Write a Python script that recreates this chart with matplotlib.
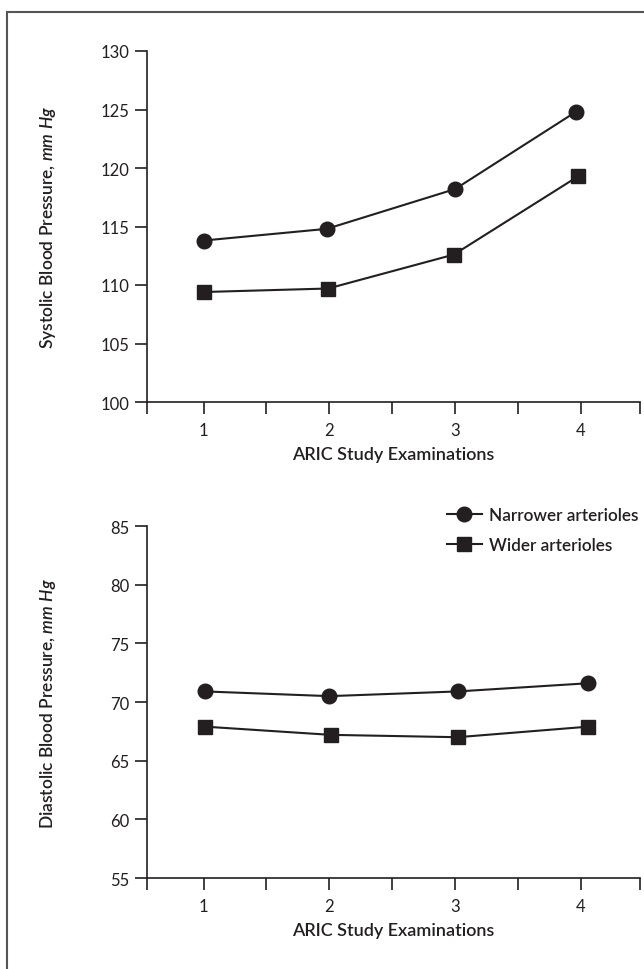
import matplotlib
matplotlib.use("Agg")
import matplotlib.pyplot as plt
from matplotlib.patches import Rectangle

plt.rcParams["font.family"] = ["Lato", "DejaVu Sans"]
plt.rcParams["mathtext.fontset"] = "custom"
plt.rcParams["mathtext.rm"] = "Lato:semibold"
plt.rcParams["mathtext.it"] = "Lato:italic:semibold"

# ARIC examination visits
exams = [1, 2, 3, 4]
exam_labels = ["1", "2", "3", "4"]

# systolic panel (x as plotted, slightly off the integer visits)
sys_x_narrow = [1.0, 1.98, 3.0, 3.96]
sys_x_wide = [1.0, 1.99, 2.99, 3.98]
sys_narrow = [113.8, 114.8, 118.2, 124.8]
sys_wide = [109.4, 109.7, 112.6, 119.3]

# diastolic panel
dia_x_narrow = [1.01, 2.0, 3.02, 4.06]
dia_x_wide = [1.01, 2.01, 3.02, 4.06]
dia_narrow = [70.9, 70.5, 70.9, 71.6]
dia_wide = [67.9, 67.2, 67.0, 67.9]

series_names = ["Narrower arterioles", "Wider arterioles"]

ink = "#231f20"

fig = plt.figure(figsize=(6.44, 9.70), dpi=100)
fig.patches.append(Rectangle((7 / 644, -0.05), 1.2, 1 - 13 / 970 + 0.05,
                             transform=fig.transFigure, fill=False,
                             ec="#555555", lw=1.5))

xlim = (0.55, 4.47)
left = 147 / 644
width = (640 - 147) / 644
ax1 = fig.add_axes([left, 1 - 403 / 970, width, (403 - 52) / 970])
ax2 = fig.add_axes([left, 1 - 879 / 970, width, (879 - 527) / 970])


def style(ax, ylim, yticks, ylabel):
    ax.set_xlim(*xlim)
    ax.set_ylim(*ylim)
    for s in ["top", "right"]:
        ax.spines[s].set_visible(False)
    for s in ["left", "bottom"]:
        ax.spines[s].set_linewidth(1.2)
        ax.spines[s].set_color(ink)
    ax.set_xticks(exams)
    ax.set_xticklabels(exam_labels)
    ax.set_xticks([xlim[0], 1.5, 2.5, 3.5, xlim[1]], minor=True)
    ax.set_yticks(yticks)
    ax.tick_params(axis="both", which="both", direction="out", length=8.5,
                   width=1.2, color=ink, labelsize=12, labelcolor=ink, pad=4)
    ax.tick_params(axis="x", pad=6)
    ax.set_xlabel("ARIC Study Examinations", fontsize=13, fontweight="semibold",
                  color=ink)
    ax.xaxis.set_label_coords(0.5, -0.125)
    ax.set_ylabel(ylabel, fontsize=12.5, fontweight="semibold", color=ink)
    ax.yaxis.set_label_coords(-0.18, 0.5)


kw = dict(color=ink, lw=1.5, clip_on=False)
ax1.plot(sys_x_narrow, sys_narrow, marker="o", ms=10.5, **kw)
ax1.plot(sys_x_wide, sys_wide, marker="s", ms=9.5, **kw)
style(ax1, (100, 130), range(100, 131, 5),
      "Systolic Blood Pressure, $\\it{mm\\ Hg}$")

h1, = ax2.plot(dia_x_narrow, dia_narrow, marker="o", ms=10.5, **kw)
h2, = ax2.plot(dia_x_wide, dia_wide, marker="s", ms=9.5, **kw)
style(ax2, (55, 85), range(55, 86, 5),
      "Diastolic Blood Pressure, $\\it{mm\\ Hg}$")

leg = fig.legend([h1, h2], series_names, loc="upper left",
                 bbox_to_anchor=(432 / 644, 1 - 493 / 970), frameon=False,
                 handlelength=2.0, handletextpad=0.45, labelspacing=0.8,
                 prop={"size": 12.3, "weight": "semibold"})
for t in leg.get_texts():
    t.set_color(ink)

fig.savefig("out.png", dpi=100)
